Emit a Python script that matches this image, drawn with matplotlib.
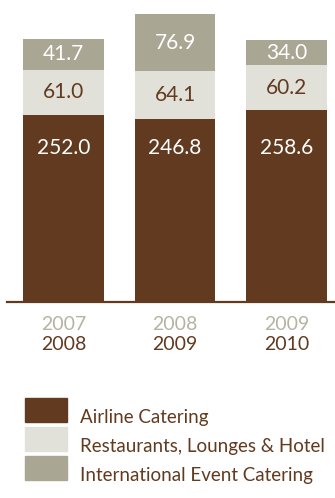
import matplotlib.pyplot as plt
from matplotlib.patches import Patch

# fiscal years (upper = previous, lower = current)
years_from = ['2007', '2008', '2009']
years_to = ['2008', '2009', '2010']

# segment values (stacked bottom to top)
airline = [252.0, 246.8, 258.6]
restaurants = [61.0, 64.1, 60.2]
events = [41.7, 76.9, 34.0]

labels = ['Airline Catering', 'Restaurants, Lounges & Hotel',
          'International Event Catering']

brown = '#623A1F'
light = '#E2E1D9'
grey = '#A9A694'
year_grey = '#B5B3A4'

plt.rcParams['font.family'] = ['Lato', 'DejaVu Sans']

W, H = 335, 498
fig = plt.figure(figsize=(W / 100, H / 100), dpi=100)
ax = fig.add_axes([7 / W, (H - 302) / H, 328 / W, 302 / H])

x = range(len(airline))
width = 0.726
bottom2 = [a + r for a, r in zip(airline, restaurants)]

ax.bar(x, airline, width, color=brown, linewidth=0)
ax.bar(x, restaurants, width, bottom=airline, color=light, linewidth=0)
ax.bar(x, events, width, bottom=bottom2, color=grey, linewidth=0)

ax.set_xlim(-0.507, 2.435)
ax.set_ylim(0, 407)

for i in x:
    ax.text(i, 207, f'{airline[i]:.1f}', ha='center', va='center',
            color='white', fontsize=15)
    ax.text(i, airline[i] + restaurants[i] / 2, f'{restaurants[i]:.1f}',
            ha='center', va='center', color=brown, fontsize=15)
    ax.text(i, bottom2[i] + events[i] / 2, f'{events[i]:.1f}',
            ha='center', va='center', color='white', fontsize=15)
    ax.text(i, -22 / 302, years_from[i], transform=ax.get_xaxis_transform(),
            ha='center', va='center', color=year_grey, fontsize=14)
    ax.text(i, -43 / 302, years_to[i], transform=ax.get_xaxis_transform(),
            ha='center', va='center', color=brown, fontsize=14)

for s in ['top', 'left', 'right']:
    ax.spines[s].set_visible(False)
ax.spines['bottom'].set_color(brown)
ax.spines['bottom'].set_linewidth(1.6)
ax.set_xticks([])
ax.set_yticks([])
ax.patch.set_alpha(0)

handles = [Patch(color=c) for c in [brown, light, grey]]
fs = 13.5
px = fs * 100 / 72
leg = fig.legend(handles, labels, loc='upper left',
                 bbox_to_anchor=(25 / W, 1 - 398 / H), bbox_transform=fig.transFigure,
                 frameon=False, fontsize=fs, labelcolor=brown,
                 handlelength=42 / px, handleheight=30 / px, labelspacing=5 / px,
                 handletextpad=13 / px, borderpad=0, borderaxespad=0)
# labels sit a little low next to the swatches
for t in leg.get_texts():
    t.set_y(-7)

plt.savefig('out.png', dpi=100)
